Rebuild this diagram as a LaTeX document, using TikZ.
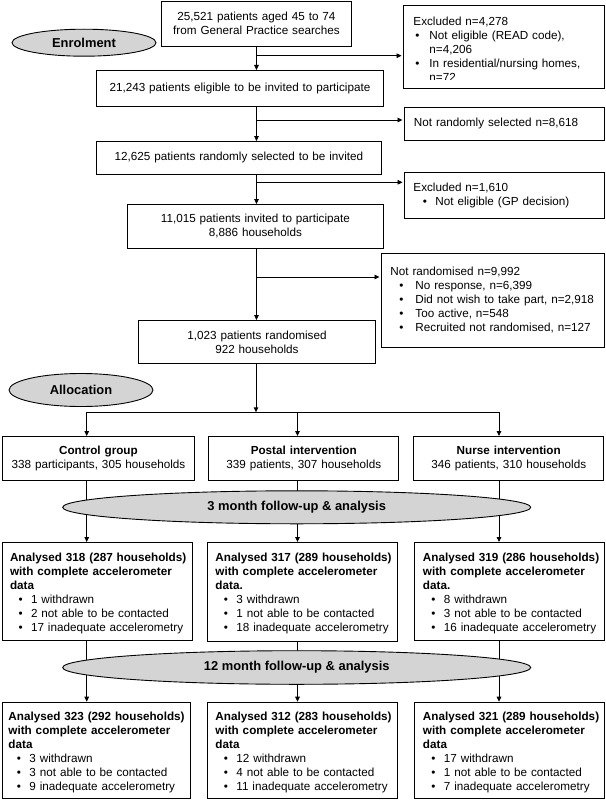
\documentclass[tikz,border=0pt]{standalone}
\usepackage{fontspec}
\setmainfont{Liberation Sans}
\usetikzlibrary{shapes.geometric,arrows.meta,backgrounds}
\definecolor{ellgray}{HTML}{D4D4D4}
\newcommand\lin[1]{\mbox{#1}}
\newcommand\bi[3]{\mbox{\makebox[#2][l]{\hspace*{#1}\textbullet}#3}}
\newcommand\hd[1]{\mbox{\textbf{#1}}}
\newcommand\hds[1]{\mbox{\rule{0pt}{12.5pt}\textbf{#1}}}
\begin{document}
\begin{tikzpicture}[x=1pt,y=-1pt,
  box/.style={draw, line width=0.9pt, rectangle, anchor=north west, inner ysep=0pt,
    font=\fontsize{11.7}{14}\selectfont},
  lbox/.style={box, align=left},
  cbox/.style={box, align=center, inner xsep=4pt},
  oval/.style={ellipse, draw, line width=0.9pt, fill=ellgray, inner sep=0pt,
    font=\bfseries\fontsize{12.9}{15}\selectfont},
  ln/.style={line width=0.9pt},
  arr/.style={line width=0.9pt, -{Triangle[length=5pt,width=4.6pt]}},
  barr/.style={arr, shorten >=1.5pt}]
\useasboundingbox (0,0) rectangle (605,800);

% column coordinates
\coordinate (c1) at (86.7,0);
\coordinate (c2) at (297.5,0);
\coordinate (c3) at (499,0);

% enrolment part
\node[cbox, minimum width=190pt, minimum height=45.3pt, text width=182pt] (top) at (161,0.7)
  {25,521 patients aged 45 to 74\\from General Practice searches};
\node[oval, minimum width=144pt, minimum height=27pt] (enr) at (84,42.7) {Enrolment};
\node[lbox, inner xsep=10pt, minimum width=201pt, minimum height=83pt, text width=181pt] (ex1) at (403,5)
  {\lin{\rule{0pt}{12.5pt}Excluded n=4,278}\\
   \bi{2pt}{16pt}{Not eligible (READ code),}\\
   \lin{\hspace*{16pt}n=4,206}\\
   \bi{2pt}{16pt}{In residential/nursing homes,}\\
   \lin{\hspace*{16pt}n=72}};
% the last line is cut off in the original
\fill[white] ([xshift=0.6pt]ex1.west |- 0,80.3) rectangle ([xshift=-0.6pt]ex1.south east |- 0,87.1);
\node[cbox, minimum width=287pt, minimum height=36pt, text width=279pt] (b2) at (96,70)
  {21,243 patients eligible to be invited to participate};
\node[lbox, inner xsep=9.5pt, minimum width=200pt, minimum height=33pt, text width=181pt] (nrs) at (404,107)
  {\lin{Not randomly selected n=8,618}};
\node[cbox, minimum width=285pt, minimum height=33pt, text width=277pt] (b3) at (96,141)
  {12,625 patients randomly selected to be invited};
\node[lbox, inner xsep=9pt, minimum width=200pt, minimum height=46pt, text width=182pt] (ex2) at (404,172)
  {\lin{Excluded n=1,610}\\
   \bi{9.5pt}{22pt}{Not eligible (GP decision)}};
\node[cbox, minimum width=256pt, minimum height=44pt, text width=248pt] (b4) at (127,204)
  {11,015 patients invited to participate\\8,886 households};
\node[lbox, inner xsep=9pt, minimum width=223pt, minimum height=94pt, text width=205pt] (nr) at (381,253)
  {\lin{Not randomised n=9,992}\\
   \bi{9pt}{25pt}{No response, n=6,399}\\
   \bi{9pt}{25pt}{Did not wish to take part, n=2,918}\\
   \bi{9pt}{25pt}{Too active, n=548}\\
   \bi{9pt}{25pt}{Recruited not randomised, n=127}};
\node[cbox, minimum width=237pt, minimum height=43pt, text width=229pt] (b5) at (138,320)
  {1,023 patients randomised\\922 households};

% allocation
\node[oval, minimum width=144pt, minimum height=33pt] (alloc) at (81,390) {Allocation};
\coordinate (split) at (256,412.3);
\node[cbox, minimum width=192pt, minimum height=44pt, text width=184pt] (g1) at (2,436)
  {\textbf{Control group}\\338 participants, 305 households};
\node[cbox, minimum width=190pt, minimum height=44pt, text width=182pt] (g2) at (208.3,436)
  {\textbf{Postal intervention}\\339 patients, 307 households};
\node[cbox, minimum width=190pt, minimum height=44pt, text width=182pt] (g3) at (413.3,436)
  {\textbf{Nurse intervention}\\346 patients, 310 households};

% follow-up ellipses
\node[oval, minimum width=468pt, minimum height=33pt] (m3) at (296.7,507.3) {3 month follow-up \& analysis};
\node[oval, minimum width=468pt, minimum height=33.6pt] (m12) at (296.7,667.5) {12 month follow-up \& analysis};

% 3 month boxes
\node[lbox, inner xsep=7.6pt, minimum width=190pt, minimum height=98pt, text width=174.8pt] (a1) at (2,542)
  {\hds{Analysed 318 (287 households)}\\ \hd{with complete accelerometer}\\ \hd{data}\\
   \bi{8.5pt}{21pt}{1 withdrawn}\\ \bi{8.5pt}{21pt}{2 not able to be contacted}\\
   \bi{8.5pt}{21pt}{17 inadequate accelerometry}};
\node[lbox, inner xsep=8pt, minimum width=190pt, minimum height=99pt, text width=174pt] (a2) at (207,542)
  {\hds{Analysed 317 (289 households)}\\ \hd{with complete accelerometer}\\ \hd{data.}\\
   \bi{8.5pt}{21pt}{3 withdrawn}\\ \bi{8.5pt}{21pt}{1 not able to be contacted}\\
   \bi{8.5pt}{21pt}{18 inadequate accelerometry}};
\node[lbox, inner xsep=8.5pt, minimum width=190pt, minimum height=98pt, text width=173pt] (a3) at (414,542)
  {\hds{Analysed 319 (286 households)}\\ \hd{with complete accelerometer}\\ \hd{data.}\\
   \bi{8.5pt}{21pt}{8 withdrawn}\\ \bi{8.5pt}{21pt}{3 not able to be contacted}\\
   \bi{8.5pt}{21pt}{16 inadequate accelerometry}};

% 12 month boxes
\node[lbox, inner xsep=6pt, minimum width=188pt, minimum height=96pt, text width=176pt] (t1) at (2,701.7)
  {\hds{Analysed 323 (292 households)}\\ \hd{with complete accelerometer}\\ \hd{data}\\
   \bi{8.5pt}{21pt}{3 withdrawn}\\ \bi{8.5pt}{21pt}{3 not able to be contacted}\\
   \bi{8.5pt}{21pt}{9 inadequate accelerometry}};
\node[lbox, inner xsep=8pt, minimum width=190pt, minimum height=96pt, text width=174pt] (t2) at (207,701.7)
  {\hds{Analysed 312 (283 households)}\\ \hd{with complete accelerometer}\\ \hd{data}\\
   \bi{8.5pt}{21pt}{12 withdrawn}\\ \bi{8.5pt}{21pt}{4 not able to be contacted}\\
   \bi{8.5pt}{21pt}{11 inadequate accelerometry}};
\node[lbox, inner xsep=8.5pt, minimum width=190pt, minimum height=96pt, text width=173pt] (t3) at (414,701.7)
  {\hds{Analysed 321 (289 households)}\\ \hd{with complete accelerometer}\\ \hd{data}\\
   \bi{8.5pt}{21pt}{17 withdrawn}\\ \bi{8.5pt}{21pt}{1 not able to be contacted}\\
   \bi{8.5pt}{21pt}{7 inadequate accelerometry}};

% junction coordinates on main line
\coordinate (j1) at (256,55.7);
\coordinate (j2) at (256,120);
\coordinate (j3) at (256,182.3);
\coordinate (j4) at (256,277);

% main flow
\draw[arr] (top.south) -- (top.south |- b2.north);
\draw[barr] (j1) -- (j1 -| ex1.west);
\draw[arr] (top.south |- b2.south) -- (top.south |- b3.north);
\draw[barr] (j2) -- (j2 -| nrs.west);
\draw[arr] (top.south |- b3.south) -- (top.south |- b4.north);
\draw[barr] (j3) -- (j3 -| ex2.west);
\draw[arr] (top.south |- b4.south) -- (top.south |- b5.north);
\draw[barr] (j4) -- (j4 -| nr.west);
\draw[arr] (b5.south -| split) -- (split);
\draw[ln] (split -| c1) -- (split -| c3);
\draw[arr] (split -| c1) -- (g1.north -| c1);
\draw[arr] (split -| c2) -- (g2.north -| c2);
\draw[arr] (split -| c3) -- (g3.north -| c3);

\begin{pgfonlayer}{background}
  \draw[ln] (g1.south -| c1) -- (m3.center -| c1);
  \draw[ln] (g2.south -| c2) -- (m3.center -| c2);
  \draw[ln] (g3.south -| c3) -- (m3.center -| c3);
  \draw[arr] (m3.center -| c1) -- (a1.north -| c1);
  \draw[arr] (m3.center -| c2) -- (a2.north -| c2);
  \draw[arr] (m3.center -| c3) -- (a3.north -| c3);
  \draw[ln] (a1.south -| c1) -- (m12.center -| c1);
  \draw[ln] (a2.south -| c2) -- (m12.center -| c2);
  \draw[ln] (a3.south -| c3) -- (m12.center -| c3);
  \draw[arr] (m12.center -| c1) -- (t1.north -| c1);
  \draw[arr] (m12.center -| c2) -- (t2.north -| c2);
  \draw[arr] (m12.center -| c3) -- (t3.north -| c3);
\end{pgfonlayer}
\end{tikzpicture}
\end{document}
